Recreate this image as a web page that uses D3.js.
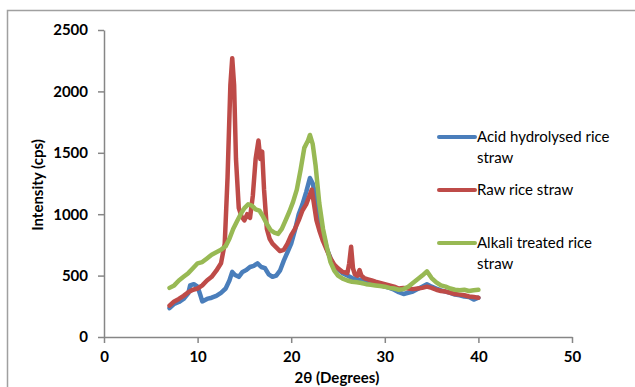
<!DOCTYPE html>
<html>
<head>
<meta charset="utf-8">
<script src="https://cdn.jsdelivr.net/npm/d3@7"></script>
<style>
  body { margin: 0; background: #fff; }
  svg { display: block; font-family: Lato, "Open Sans", sans-serif; }
</style>
</head>
<body>
<div id="chart"></div>
<script>
// series data (2 theta in degrees, intensity in cps)
const acidAngles = [7.0, 7.5, 8.0, 8.5, 9.0, 9.2, 9.6, 10.0, 10.3, 10.5, 11.0, 11.5, 12.0, 12.5, 13.0, 13.4, 13.7, 14.0, 14.4, 14.8, 15.2, 15.6, 16.0, 16.4, 16.8, 17.2, 17.6, 18.0, 18.4, 18.8, 19.2, 19.6, 20.0, 20.4, 20.8, 21.2, 21.6, 22.0, 22.3, 22.7, 23.0, 23.4, 23.8, 24.2, 24.6, 25.0, 25.5, 26.0, 26.5, 27.0, 27.5, 28.0, 28.5, 29.0, 29.5, 30.0, 30.5, 31.0, 31.5, 32.0, 32.5, 33.0, 33.5, 34.0, 34.5, 35.0, 35.5, 36.0, 36.5, 37.0, 37.5, 38.0, 38.5, 39.0, 39.5, 40.0];
const acidValues = [235, 270, 285, 310, 355, 420, 430, 410, 340, 290, 310, 320, 335, 360, 395, 460, 530, 505, 490, 530, 545, 570, 580, 600, 570, 560, 510, 490, 500, 540, 620, 690, 760, 870, 1000, 1080, 1180, 1295, 1250, 1110, 980, 850, 720, 640, 580, 550, 520, 500, 480, 470, 465, 455, 445, 430, 425, 410, 400, 385, 365, 350, 360, 370, 390, 410, 430, 410, 395, 380, 370, 360, 345, 340, 330, 325, 305, 320];

const rawAngles = [7.0, 7.5, 8.0, 8.5, 9.0, 9.5, 10.0, 10.5, 11.0, 11.5, 12.0, 12.5, 12.9, 13.2, 13.5, 13.7, 13.9, 14.1, 14.4, 14.7, 15.0, 15.3, 15.6, 15.9, 16.2, 16.5, 16.7, 16.9, 17.1, 17.4, 17.7, 18.0, 18.4, 18.8, 19.2, 19.6, 20.0, 20.4, 20.8, 21.2, 21.6, 22.0, 22.2, 22.4, 22.7, 23.0, 23.4, 23.8, 24.2, 24.6, 25.0, 25.5, 26.0, 26.2, 26.4, 26.6, 26.8, 27.1, 27.3, 27.5, 27.8, 28.2, 28.6, 29.0, 29.5, 30.0, 30.5, 31.0, 31.5, 32.0, 32.5, 33.0, 33.5, 34.0, 34.5, 35.0, 35.5, 36.0, 36.5, 37.0, 37.5, 38.0, 38.5, 39.0, 39.5, 40.0];
const rawValues = [255, 290, 310, 335, 365, 385, 395, 420, 460, 490, 540, 600, 760, 1300, 2050, 2270, 2050, 1450, 1050, 980, 950, 1000, 970, 1150, 1450, 1600, 1450, 1510, 1200, 880, 800, 760, 730, 700, 710, 760, 830, 880, 950, 1030, 1080, 1160, 1200, 1100, 950, 870, 780, 710, 640, 590, 560, 530, 520, 600, 735, 560, 510, 500, 545, 500, 480, 470, 460, 450, 440, 430, 420, 410, 395, 400, 395, 390, 395, 400, 410, 400, 385, 375, 370, 360, 350, 345, 340, 330, 325, 320];

const alkaliAngles = [7.0, 7.5, 8.0, 8.5, 9.0, 9.5, 10.0, 10.5, 11.0, 11.5, 12.0, 12.5, 13.0, 13.4, 13.8, 14.2, 14.6, 15.0, 15.4, 15.8, 16.2, 16.6, 17.0, 17.4, 17.8, 18.2, 18.6, 19.0, 19.4, 19.8, 20.2, 20.6, 21.0, 21.4, 21.8, 22.0, 22.3, 22.6, 23.0, 23.4, 23.8, 24.2, 24.6, 25.0, 25.5, 26.0, 26.5, 27.0, 27.5, 28.0, 28.5, 29.0, 29.5, 30.0, 30.5, 31.0, 31.5, 32.0, 32.5, 33.0, 33.5, 34.0, 34.5, 35.0, 35.5, 36.0, 36.5, 37.0, 37.5, 38.0, 38.5, 39.0, 39.5, 40.0];
const alkaliValues = [400, 420, 460, 490, 520, 560, 600, 610, 640, 670, 690, 710, 740, 800, 880, 940, 1000, 1050, 1080, 1070, 1040, 1030, 980, 920, 870, 850, 840, 880, 950, 1020, 1100, 1200, 1360, 1540, 1600, 1645, 1570, 1400, 1090, 880, 735, 610, 540, 500, 475, 460, 450, 445, 440, 430, 425, 420, 415, 410, 400, 395, 385, 390, 410, 440, 470, 500, 535, 480, 445, 420, 410, 395, 385, 380, 385, 375, 380, 385];

const seriesNames = ["Acid hydrolysed rice straw", "Raw rice straw", "Alkali treated rice straw"];
const seriesColors = ["#4a7ebb", "#be4b48", "#98b954"];
const xTicks = [0, 10, 20, 30, 40, 50];
const yTicks = [0, 500, 1000, 1500, 2000, 2500];

const series = [
    {name: seriesNames[0], color: seriesColors[0], pts: acidAngles.map((a, i) => [a, acidValues[i]])},
    {name: seriesNames[1], color: seriesColors[1], pts: rawAngles.map((a, i) => [a, rawValues[i]])},
    {name: seriesNames[2], color: seriesColors[2], pts: alkaliAngles.map((a, i) => [a, alkaliValues[i]])}
];

const W = 635, H = 387;
const margin = {left: 104, top: 30, right: 63, bottom: 50};
const width = W - margin.left - margin.right;
const height = H - margin.top - margin.bottom;

const svg = d3.select("#chart").append("svg")
    .attr("width", W)
    .attr("height", H);

// chart area border (runs off the right and bottom edges)
svg.append("rect")
    .attr("x", 7.5).attr("y", 10.5)
    .attr("width", W + 10).attr("height", H + 10)
    .attr("fill", "none")
    .attr("stroke", "#a0a0a0")
    .attr("stroke-width", 1.5);

const g = svg.append("g")
    .attr("transform", "translate(" + margin.left + "," + margin.top + ")");

const x = d3.scaleLinear().domain([0, 50]).range([0, width]);
const y = d3.scaleLinear().domain([0, 2500]).range([height, 0]);

//x axis
const xAxis = g.append("g")
    .attr("transform", "translate(0," + height + ")")
    .call(d3.axisBottom(x).tickValues(xTicks).tickFormat(d3.format("d"))
        .tickSize(6).tickSizeOuter(0).tickPadding(8));
//y axis
const yAxis = g.append("g")
    .call(d3.axisLeft(y).tickValues(yTicks).tickFormat(d3.format("d"))
        .tickSize(6).tickSizeOuter(0).tickPadding(10));

[xAxis, yAxis].forEach(a => {
    a.select(".domain").attr("stroke", "#868686").attr("stroke-width", 1.5);
    a.selectAll(".tick line").attr("stroke", "#868686").attr("stroke-width", 1.5);
    a.selectAll(".tick text")
        .attr("fill", "#000")
        .style("font-size", "15px")
        .style("font-weight", "bold")
        .style("font-family", "Lato, sans-serif");
});

const line = d3.line()
    .x(d => x(d[0]))
    .y(d => y(d[1]));

g.selectAll("path.series")
    .data(series)
    .join("path")
    .attr("class", "series")
    .attr("d", d => line(d.pts))
    .attr("fill", "none")
    .attr("stroke", d => d.color)
    .attr("stroke-width", 4.5)
    .attr("stroke-linejoin", "round")
    .attr("stroke-linecap", "round");

// axis titles
svg.append("text")
    .attr("x", 337).attr("y", 383)
    .attr("text-anchor", "middle")
    .style("font-size", "15px")
    .style("font-weight", "bold")
    .text("2θ (Degrees)");

svg.append("text")
    .attr("transform", "translate(43,185) rotate(-90)")
    .attr("text-anchor", "middle")
    .style("font-size", "15px")
    .style("font-weight", "bold")
    .text("Intensity (cps)");

// legend
const legendRows = [
    {lines: ["Acid hydrolysed rice", "straw"], y: 137},
    {lines: ["Raw rice straw"], y: 190},
    {lines: ["Alkali treated rice", "straw"], y: 243}
];
const legend = svg.append("g");
legendRows.forEach((r, i) => {
    legend.append("line")
        .attr("x1", 439).attr("x2", 475)
        .attr("y1", r.y).attr("y2", r.y)
        .attr("stroke", seriesColors[i])
        .attr("stroke-width", 4)
        .attr("stroke-linecap", "round");
    r.lines.forEach((t, j) => {
        legend.append("text")
            .attr("x", 477)
            .attr("y", r.y + 5 + j * 21)
            .style("font-size", "15px")
            .text(t);
    });
});
</script>
</body>
</html>
